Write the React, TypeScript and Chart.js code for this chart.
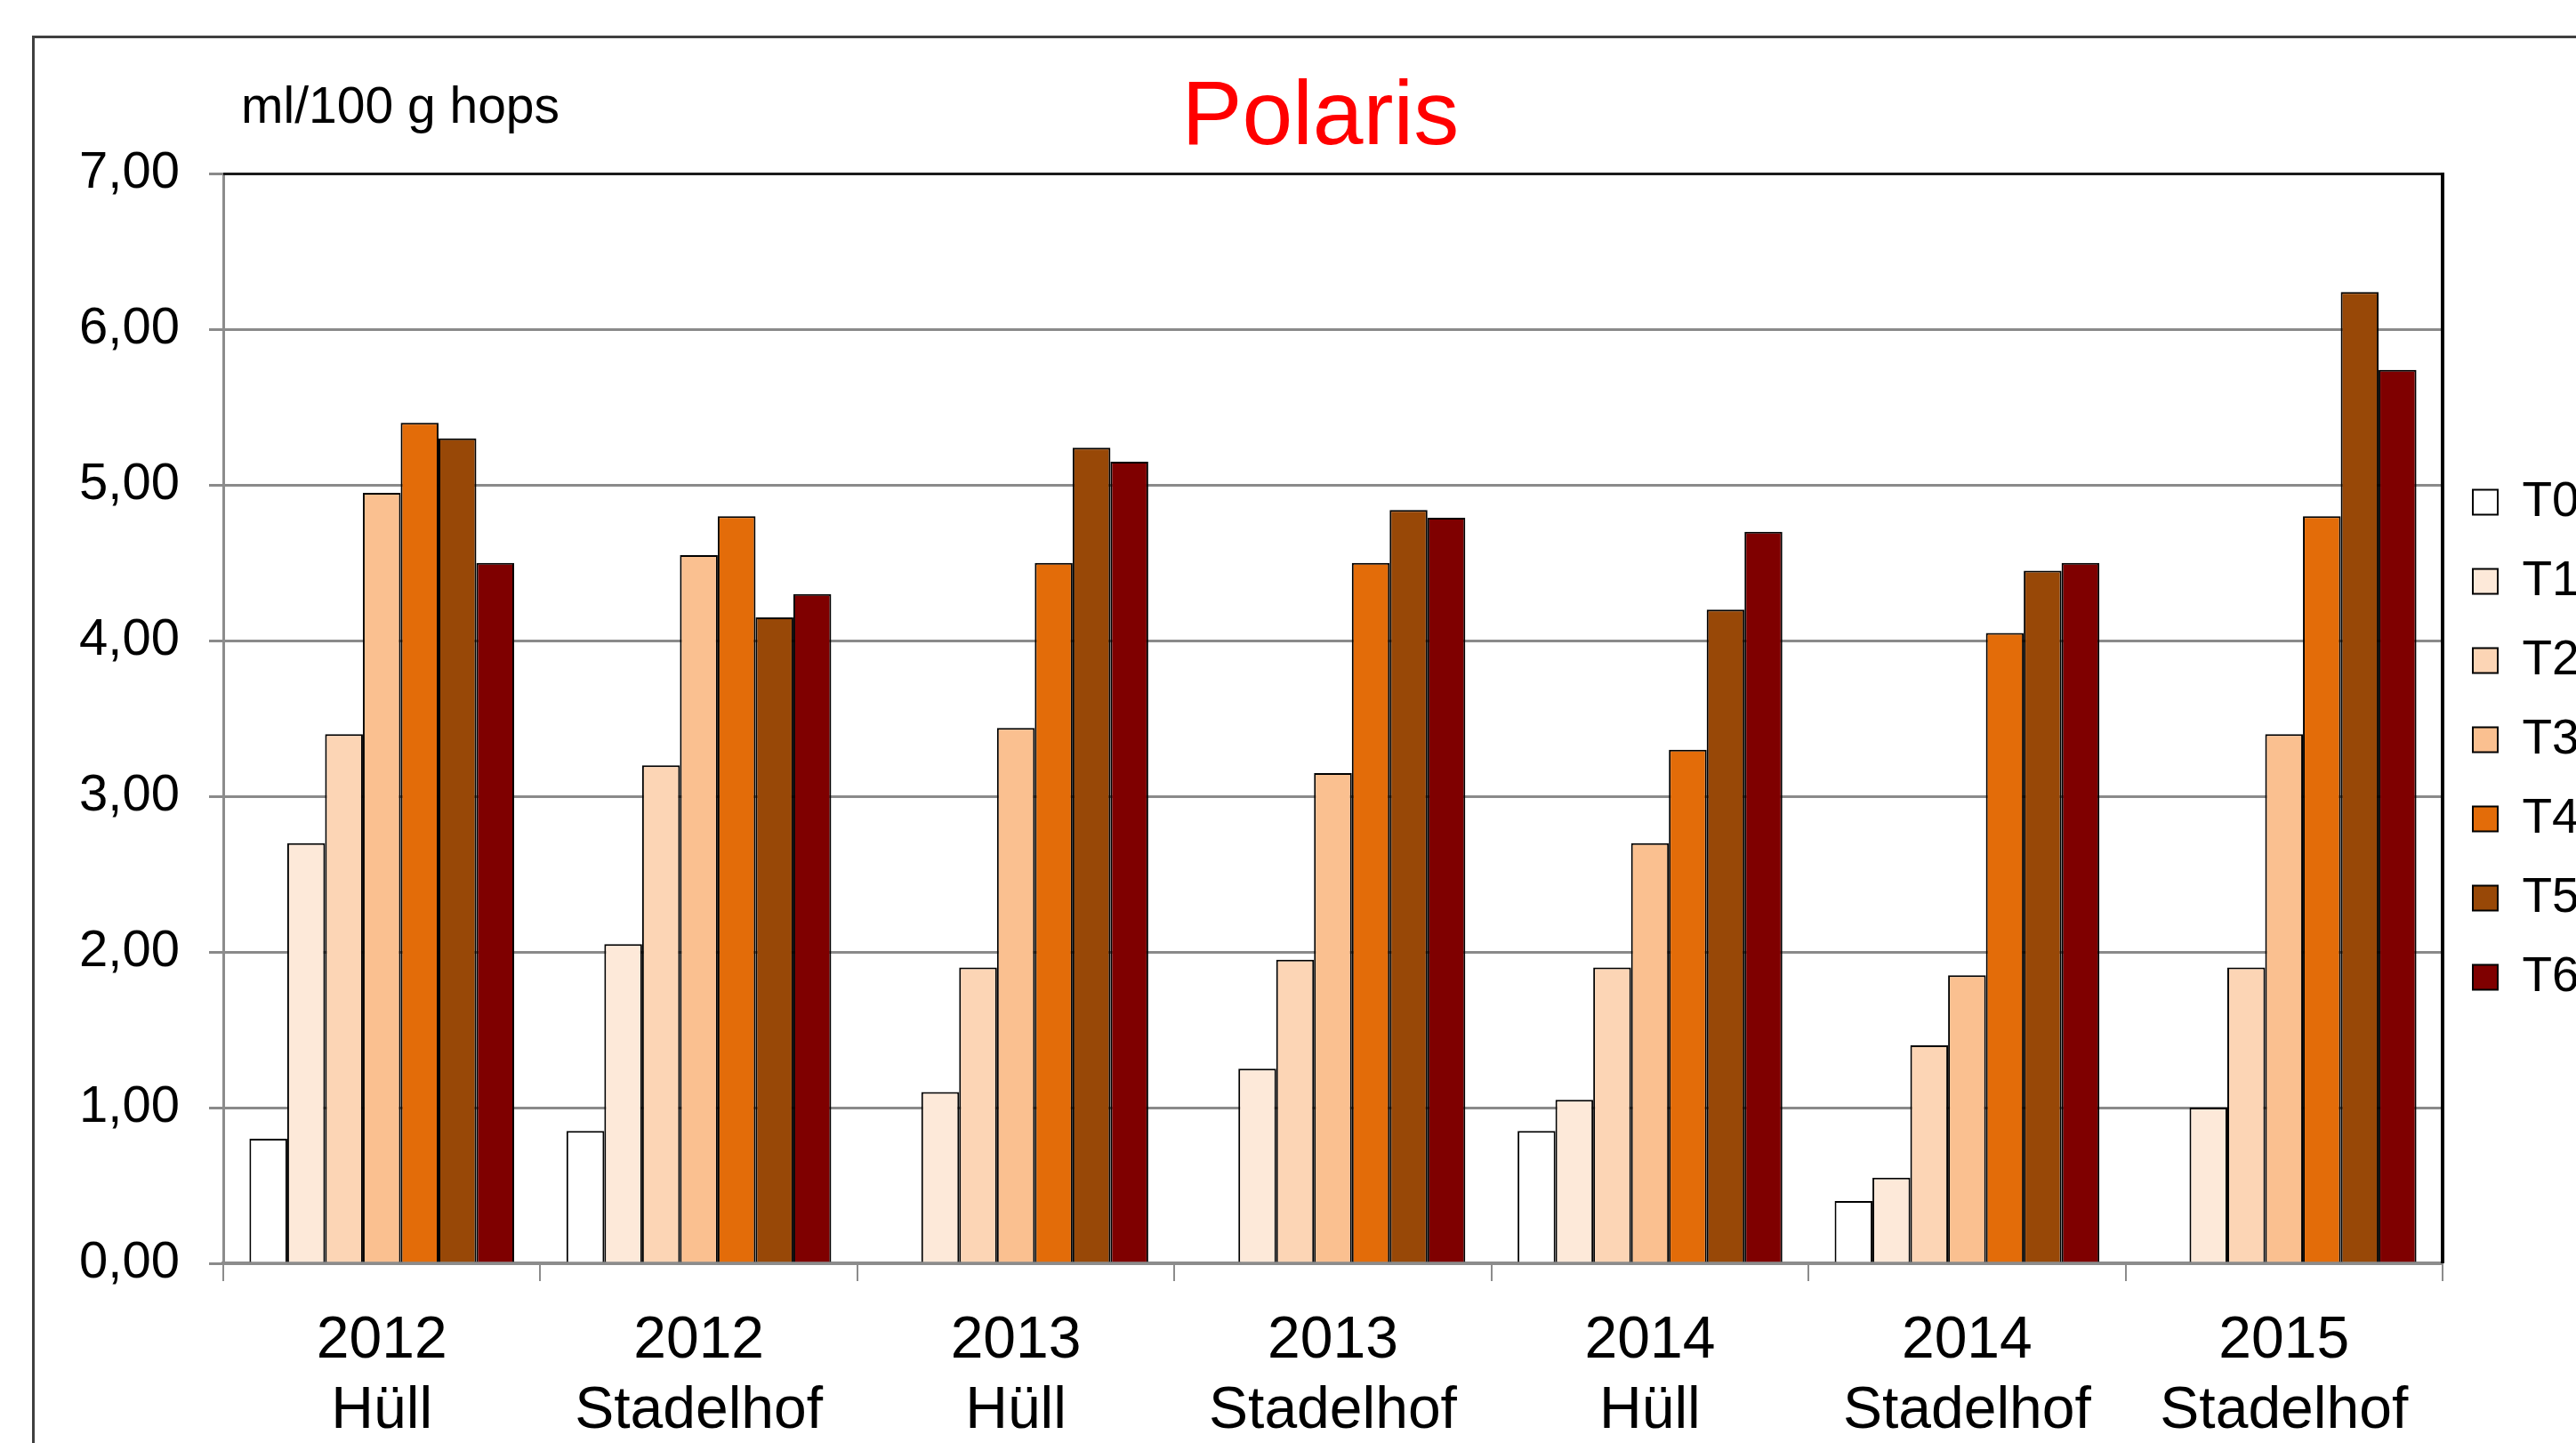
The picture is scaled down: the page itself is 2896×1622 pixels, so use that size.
import React, { useEffect, useRef } from "react";
import { Chart, registerables } from "chart.js";

Chart.register(...registerables);

const CATEGORIES: string[][] = [
  ["2012", "Hüll"],
  ["2012", "Stadelhof"],
  ["2013", "Hüll"],
  ["2013", "Stadelhof"],
  ["2014", "Hüll"],
  ["2014", "Stadelhof"],
  ["2015", "Stadelhof"],
];

const SERIES_NAMES = ["T0", "T1", "T2", "T3", "T4", "T5", "T6"];
const T0 = [0.8, 0.85, null, null, 0.85, 0.4, null];
const T1 = [2.7, 2.05, 1.1, 1.25, 1.05, 0.55, 1.0];
const T2 = [3.4, 3.2, 1.9, 1.95, 1.9, 1.4, 1.9];
const T3 = [4.95, 4.55, 3.44, 3.15, 2.7, 1.85, 3.4];
const T4 = [5.4, 4.8, 4.5, 4.5, 3.3, 4.05, 4.8];
const T5 = [5.3, 4.15, 5.24, 4.84, 4.2, 4.45, 6.24];
const T6 = [4.5, 4.3, 5.15, 4.79, 4.7, 4.5, 5.74];
const SERIES_VALUES = [T0, T1, T2, T3, T4, T5, T6];
const SERIES_COLORS = ["#FFFFFF", "#FDE9D9", "#FCD5B5", "#FAC090", "#E36C09", "#984807", "#7F0000"];

const Y_TICK_LABELS = ["0,00", "1,00", "2,00", "3,00", "4,00", "5,00", "6,00", "7,00"];
const TITLE = "Polaris";
const UNIT_LABEL = "ml/100 g hops";

const FONT = '"Liberation Sans", Arial, sans-serif';
const W = 2896;
const H = 1622;

const decorPlugin = {
  id: "decor",
  beforeDraw(chart: any) {
    const ctx = chart.ctx;
    ctx.save();
    ctx.fillStyle = "#FFFFFF";
    ctx.fillRect(0, 0, chart.width, chart.height);
    ctx.strokeStyle = "#404040";
    ctx.lineWidth = 3;
    ctx.strokeRect(37.5, 41.5, 4000, 4000);
    ctx.restore();
  },
  afterDraw(chart: any) {
    const ctx = chart.ctx;
    const a = chart.chartArea;
    ctx.save();
    ctx.strokeStyle = "#1a1a1a";
    ctx.lineWidth = 3;
    ctx.beginPath();
    ctx.moveTo(a.left, a.top);
    ctx.lineTo(a.right, a.top);
    ctx.stroke();
    ctx.lineWidth = 4;
    ctx.strokeStyle = "#000000";
    ctx.beginPath();
    ctx.moveTo(a.right, a.top - 1.5);
    ctx.lineTo(a.right, a.bottom);
    ctx.stroke();
    ctx.fillStyle = "#000000";
    ctx.font = `57px ${FONT}`;
    ctx.textBaseline = "alphabetic";
    ctx.textAlign = "left";
    ctx.fillText(UNIT_LABEL, 271, 138);
    ctx.restore();
  },
};

export default function App() {
  const ref = useRef<HTMLCanvasElement | null>(null);

  useEffect(() => {
    if (!ref.current) return;
    Chart.defaults.font.family = FONT;
    const chart = new Chart(ref.current, {
      type: "bar",
      data: {
        labels: CATEGORIES,
        datasets: SERIES_NAMES.map((name, i) => ({
          label: name,
          data: SERIES_VALUES[i],
          backgroundColor: SERIES_COLORS[i],
          borderColor: "#000000",
          borderWidth: 2,
          categoryPercentage: 0.835,
          barPercentage: 1.0,
        })),
      },
      options: {
        responsive: false,
        animation: false,
        devicePixelRatio: 1,
        layout: { padding: 0 },
        plugins: {
          tooltip: { enabled: false },
          title: {
            display: true,
            text: TITLE + " ",
            color: "#FF0000",
            fullSize: false,
            font: { size: 102, weight: "normal", family: FONT, lineHeight: 1.2 },
            padding: { top: 73, bottom: 0 },
          },
          legend: {
            display: true,
            position: "right",
            align: "center",
            maxWidth: 150,
            title: { display: true, text: "", font: { size: 10, lineHeight: 1.2 }, padding: { top: 0, bottom: 29 } },
            labels: {
              color: "#000000",
              font: { size: 55, family: FONT },
              boxWidth: 28,
              boxHeight: 28,
              padding: 34,
              generateLabels: (chart: any) => {
                const items = Chart.defaults.plugins.legend.labels.generateLabels(chart);
                return items.map((it: any) => ({ ...it, lineWidth: 2 }));
              },
            },
          },
        },
        scales: {
          x: {
            type: "category",
            offset: true,
            afterFit: (s: any) => {
              s.height = 202;
            },
            grid: {
              offset: true,
              drawOnChartArea: false,
              drawTicks: true,
              tickLength: 20,
              color: "#8c8c8c",
              lineWidth: 2,
            },
            border: { display: true, color: "#8c8c8c", width: 4 },
            ticks: {
              color: "#000000",
              font: { size: 66, family: FONT, lineHeight: 1.2 },
              padding: 28,
              maxRotation: 0,
              minRotation: 0,
              autoSkip: false,
            },
          },
          y: {
            min: 0,
            max: 7,
            afterFit: (s: any) => {
              s.width = 251;
            },
            grid: {
              color: "#8a8a8a",
              lineWidth: 3,
              drawTicks: true,
              tickLength: 16,
            },
            border: { display: true, color: "#8c8c8c", width: 3 },
            ticks: {
              stepSize: 1,
              color: "#000000",
              font: { size: 58, family: FONT },
              padding: 33,
              callback: (_v: any, idx: number) => Y_TICK_LABELS[idx],
            },
          },
        },
      },
      plugins: [decorPlugin],
    } as any);
    return () => chart.destroy();
  }, []);

  return (
    <div style={{ position: "fixed", left: 0, top: 0, width: W, height: H, overflow: "hidden", background: "#fff" }}>
      <canvas ref={ref} width={W} height={H} style={{ width: W, height: H, display: "block" }} />
    </div>
  );
}
